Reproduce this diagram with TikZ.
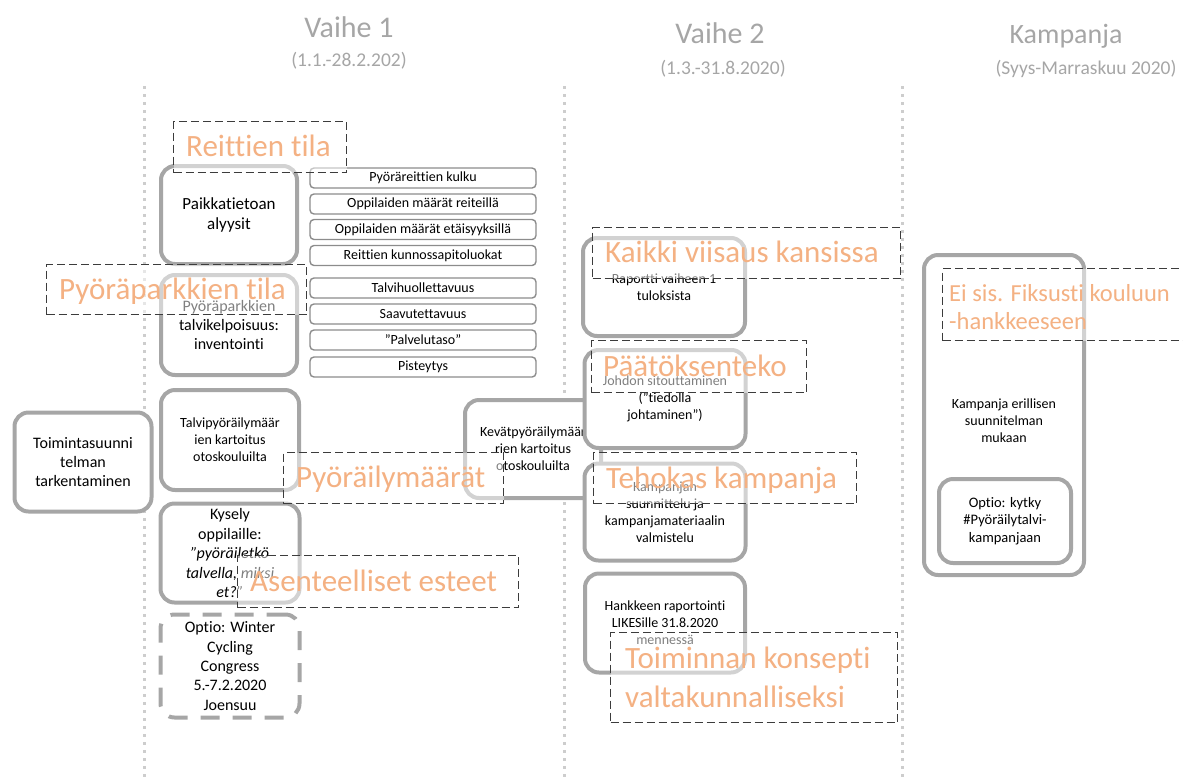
\documentclass[tikz,border=0pt]{standalone}
\usepackage{fontspec}
\setmainfont{Carlito}[Ligatures=NoCommon]
\newcommand{\myfs}[2]{\fontsize{#1}{#2}\selectfont}
\definecolor{titlegrey}{RGB}{166,166,166}
\definecolor{boxgrey}{RGB}{166,166,166}
\definecolor{smallgrey}{RGB}{140,140,140}
\definecolor{dashc}{RGB}{60,60,60}
\definecolor{orangec}{RGB}{244,177,131}
\definecolor{dotgrey}{RGB}{205,205,205}
\begin{document}
\begin{tikzpicture}[x=1pt,y=-1pt,
  dotline/.style={draw=dotgrey, line width=3pt, dash pattern=on 3pt off 5pt},
  titlebig/.style={text=titlegrey, font=\myfs{30}{36}, anchor=base, inner sep=0pt},
  titlesmall/.style={text=titlegrey, font=\myfs{19.5}{24}, anchor=base, inner sep=0pt},
  greybox/.style={draw=boxgrey, line width=4pt, rounded corners=14pt, fill=white, align=center, inner sep=0pt},
  smallbox/.style={draw=smallgrey, line width=1.4pt, rounded corners=4pt, fill=white, inner sep=0pt, font=\myfs{14}{17}, minimum width=226pt, minimum height=20pt},
  dashbox/.style={draw=dashc, line width=1.1pt, dash pattern=on 8pt off 4pt, fill=white, fill opacity=0.5, anchor=north west, inner sep=0pt},
  orangelbl/.style={text=orangec, font=\myfs{31}{37}, anchor=base west, inner sep=0pt},
  plaintext/.style={align=center, inner sep=0pt},
]
\useasboundingbox (0,0) rectangle (1183,780);
% dotted column separators
\coordinate (d1t) at (144,86); \coordinate (d1b) at (144,778);
\coordinate (d2t) at (564,86); \coordinate (d2b) at (564,778);
\coordinate (d3t) at (902,86); \coordinate (d3b) at (902,778);
\draw[dotline] (d1t) -- (d1b);
\draw[dotline] (d2t) -- (d2b);
\draw[dotline] (d3t) -- (d3b);
% titles
\node[titlebig] (v1) at (349,37) {Vaihe 1};
\node[titlesmall] (v1d) at (349,66) {(1.1.-28.2.202)};
\node[titlebig] (v2) at (720,43) {Vaihe 2};
\node[titlesmall] (v2d) at (723,74) {(1.3.-31.8.2020)};
\node[titlebig, font=\myfs{28}{34}] (kt) at (1066,43) {Kampanja};
\node[titlesmall] (ktd) at (1086,74) {(Syys-Marraskuu 2020)};
% left column boxes
\node[greybox, minimum width=136pt, minimum height=98pt, font=\myfs{17}{20}] (paik) at (229,215) {Paikkatietoan\\alyysit};
\node[greybox, minimum width=136pt, minimum height=100pt, font=\myfs{16}{19}] (park) at (229,325) {Pyöräparkkien\\talvikelpoisuus:\\inventointi};
\node[greybox, minimum width=138pt, minimum height=100pt, font=\myfs{14}{17}] (talvi) at (230,440) {Talvipyöräilymäär\\ien kartoitus\\otoskouluilta};
\node[greybox, minimum width=139pt, minimum height=99pt, font=\myfs{16}{19.5}] (kys) at (230,553) {Kysely\\oppilaille:\\\textit{”pyöräiletkö}\\\textit{talvella, miksi}\\\textit{et?”}};
\node[greybox, dash pattern=on 19pt off 13pt, minimum width=139pt, minimum height=103pt, font=\myfs{16}{19.3}] (optw) at (230,666) {Optio: Winter\\Cycling\\Congress\\5.-7.2.2020\\Joensuu};
\node[greybox, minimum width=137pt, minimum height=99pt, font=\myfs{16}{19}] (toim) at (83,462) {Toimintasuunni\\telman\\tarkentaminen};
% small boxes
\node[smallbox] (s1) at (423,178) {Pyöräreittien kulku};
\node[smallbox] (s2) at (423,204) {Oppilaiden määrät reiteillä};
\node[smallbox] (s3) at (423,229.5) {Oppilaiden määrät etäisyyksillä};
\node[smallbox] (s4) at (423,255.5) {Reittien kunnossapitoluokat};
\node[smallbox] (s5) at (423,288) {Talvihuollettavuus};
\node[smallbox] (s6) at (423,314) {Saavutettavuus};
\node[smallbox] (s7) at (423,340) {”Palvelutaso”};
\node[smallbox] (s8) at (423,367) {Pisteytys};
% middle column
\node[greybox, minimum width=136pt, minimum height=98pt, font=\myfs{14}{17}] (kev) at (533,449) {Kevätpyöräilymäär\\rien kartoitus\\otoskouluilta};
\node[greybox, minimum width=162pt, minimum height=98pt, font=\myfs{14}{17}] (rap) at (664,287) {Raportti vaiheen 1\\tuloksista};
\node[greybox, minimum width=161pt, minimum height=98pt, font=\myfs{14}{17}] (joh) at (665,399) {Johdon sitouttaminen\\(”tiedolla\\johtaminen”)};
\node[greybox, minimum width=161pt, minimum height=97pt, font=\myfs{14}{17}] (kamp) at (665,512) {Kampanjan\\suunnittelu ja\\kampanjamateriaalin\\valmistelu};
\node[greybox, minimum width=160pt, minimum height=99pt, font=\myfs{14}{17}] (hank) at (665,623) {Hankkeen raportointi\\LIKESille 31.8.2020\\mennessä};
% right column
\node[greybox, minimum width=160pt, minimum height=320pt] (big) at (1004,415) {};
\node[plaintext, font=\myfs{14}{17}] (bigt) at (1004,421) {Kampanja erillisen\\suunnitelman\\mukaan};
\node[greybox, minimum width=132pt, minimum height=84pt, font=\myfs{14.5}{17.5}] (optk) at (1005,521) {Optio: kytky\\\#Pyöräilytalvi-\\kampanjaan};
% dashed annotation boxes
\node[dashbox, minimum width=173pt, minimum height=51pt] (dreit) at (173,121) {};
\node[dashbox, minimum width=260pt, minimum height=50pt] (dpark) at (46,264) {};
\node[dashbox, minimum width=220pt, minimum height=51pt] (dmaar) at (283,452) {};
\node[dashbox, minimum width=281pt, minimum height=52pt] (dasen) at (237,555) {};
\node[dashbox, minimum width=308pt, minimum height=51pt] (dkaik) at (592,227) {};
\node[dashbox, minimum width=215pt, minimum height=52pt] (dpaat) at (591,340) {};
\node[dashbox, minimum width=263pt, minimum height=51pt] (dteho) at (593,452) {};
\node[dashbox, minimum width=287pt, minimum height=90pt] (dtoim) at (610,632) {};
\node[dashbox, minimum width=250pt, minimum height=72pt] (deis) at (942,268) {};
% orange labels
\node[orangelbl] (treit) at (186,156) {Reittien tila};
\node[orangelbl] (tpark) at (59,299) {Pyöräparkkien tila};
\node[orangelbl] (tmaar) at (296,487) {Pyöräilymäärät};
\node[orangelbl] (tasen) at (250,591) {Asenteelliset esteet};
\node[orangelbl] (tkaik) at (605,262) {Kaikki viisaus kansissa};
\node[orangelbl] (tpaat) at (603,376) {Päätöksenteko};
\node[orangelbl] (tteho) at (606,488) {Tehokas kampanja};
\node[orangelbl] (ttoim1) at (625,668) {Toiminnan konsepti};
\node[orangelbl] (ttoim2) at (625,707) {valtakunnalliseksi};
\node[orangelbl, font=\myfs{24.5}{29}] (teis1) at (949,301) {Ei sis. Fiksusti kouluun};
\node[orangelbl, font=\myfs{24.5}{29}] (teis2) at (949,329) {-hankkeeseen};
\end{tikzpicture}
\end{document}
